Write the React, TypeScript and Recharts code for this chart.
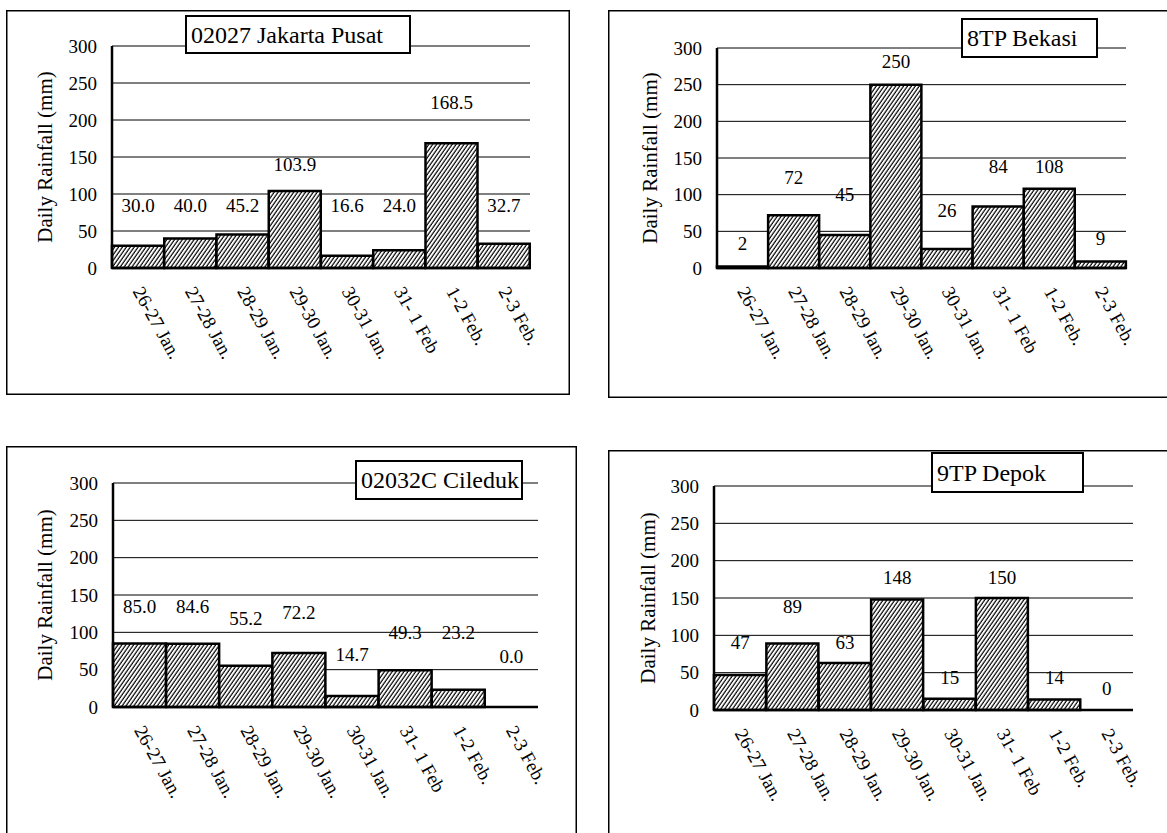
import React from 'react';
import { ComposedChart, Bar, Line, XAxis, YAxis, CartesianGrid } from 'recharts';

const FONT = 'Liberation Serif, Times New Roman, DejaVu Serif, serif';

// Observation periods (24 h ending in the morning of the second day)
const days = ['26-27 Jan.', '27-28 Jan.', '28-29 Jan.', '29-30 Jan.', '30-31 Jan.', '31- 1 Feb', '1-2 Feb.', '2-3 Feb.'];
const yTicks = [0, 50, 100, 150, 200, 250, 300];

// Daily rainfall (mm) per station
const jakartaPusatRain = [30.0, 40.0, 45.2, 103.9, 16.6, 24.0, 168.5, 32.7];
const bekasiRain = [2, 72, 45, 250, 26, 84, 108, 9];
const ciledukRain = [85.0, 84.6, 55.2, 72.2, 14.7, 49.3, 23.2, 0.0];
const depokRain = [47, 89, 63, 148, 15, 150, 14, 0];

// Height (mm on the value axis) where each value label is centred
const jakartaPusatLabelAt = [84, 84, 84, 140, 84, 84, 224, 84];
const bekasiLabelAt = [34, 124, 100, 281, 78, 138, 138, 40];
const ciledukLabelAt = [135, 135, 118, 127, 70, 100, 100, 68];
const depokLabelAt = [91, 138, 91, 177, 43, 177, 43, 29];

type Box = { x: number; y: number; w: number; h: number };
type Plot = { left: number; top: number; right: number; bottom: number };

interface PanelProps {
  id: string;
  title: string;
  values: number[];
  labelAt: number[];
  decimals: number;
  frame: Box;
  plot: Plot;
  titleBox: Box;
  yLabelX: number;
}

const Y_AXIS_W = 60;
const X_AXIS_H = 100;

const DayTick = ({ x, y, payload }: any) => (
  <text
    transform={`translate(${x},${y + 20}) rotate(61)`}
    textAnchor="start"
    dy="0.35em"
    style={{ fontFamily: FONT }}
    fontSize={19}
    fill="#000"
  >
    {payload.value}
  </text>
);

function Panel({ id, title, values, labelAt, decimals, frame, plot, titleBox, yLabelX }: PanelProps) {
  const rows = days.map((day, i) => ({ day, rain: values[i], labelAt: labelAt[i] }));
  const margin = {
    top: plot.top - frame.y,
    right: frame.x + frame.w - plot.right,
    left: plot.left - frame.x - Y_AXIS_W,
    bottom: frame.y + frame.h - plot.bottom - X_AXIS_H,
  };
  const hatchId = `hatch-${id}`;
  const border = { stroke: '#000', strokeWidth: 2.5 };

  const valueLabel = (p: any) => {
    const v = values[p.index];
    if (v === undefined) return null;
    return (
      <text
        key={`lbl-${id}-${p.index}`}
        x={p.x}
        y={p.y}
        textAnchor="middle"
        dominantBaseline="central"
        style={{ fontFamily: FONT }}
        fontSize={19}
        fill="#000"
      >
        {v.toFixed(decimals)}
      </text>
    );
  };

  const lx = (v: number) => v - frame.x;
  const ly = (v: number) => v - frame.y;
  const plotMidY = (plot.top + plot.bottom) / 2;

  return (
    <div style={{ position: 'absolute', left: frame.x, top: frame.y, width: frame.w, height: frame.h, fontFamily: FONT }}>
      <ComposedChart
        width={frame.w}
        height={frame.h}
        data={rows}
        margin={margin}
        barCategoryGap={0}
        barGap={0}
        style={{ fontFamily: FONT }}
      >
        <defs>
          <pattern id={hatchId} patternUnits="userSpaceOnUse" width={3.2} height={3.2} patternTransform="rotate(35)">
            <rect width={3.2} height={3.2} fill="#fff" />
            <line x1={1} y1={0} x2={1} y2={3.2} stroke="#000" strokeWidth={1.2} />
          </pattern>
        </defs>
        <CartesianGrid vertical={false} stroke="#000" strokeWidth={1} />
        <XAxis
          dataKey="day"
          height={X_AXIS_H}
          interval={0}
          tickLine={false}
          tickSize={0}
          tickMargin={0}
          axisLine={border}
          tick={<DayTick />}
        />
        <XAxis xAxisId="top" dataKey="day" orientation="top" height={0} tick={false} tickLine={false} axisLine={border} />
        <YAxis
          width={Y_AXIS_W}
          domain={[0, 300]}
          ticks={yTicks}
          interval={0}
          tickLine={false}
          tickSize={0}
          tickMargin={15}
          axisLine={border}
          tick={{ fill: '#000', fontSize: 19, style: { fontFamily: FONT } }}
        />
        <YAxis yAxisId="right" orientation="right" width={0} domain={[0, 300]} tick={false} tickLine={false} axisLine={border} />
        <Bar dataKey="rain" fill={`url(#${hatchId})`} stroke="#000" strokeWidth={2.5} isAnimationActive={false} />
        <Line
          dataKey="labelAt"
          stroke="none"
          dot={false}
          activeDot={false}
          legendType="none"
          isAnimationActive={false}
          label={valueLabel}
        />
      </ComposedChart>
      <svg
        width={frame.w}
        height={frame.h}
        style={{ position: 'absolute', left: 0, top: 0, pointerEvents: 'none', fontFamily: FONT }}
      >
        <rect x={0.75} y={0.75} width={frame.w - 1.5} height={frame.h - 1.5} fill="none" stroke="#000" strokeWidth={1.5} />
        <text
          transform={`translate(${lx(yLabelX)},${ly(plotMidY)}) rotate(-90)`}
          textAnchor="middle"
          dominantBaseline="central"
          fontSize={21}
          fill="#000"
        >
          Daily Rainfall (mm)
        </text>
        <rect
          x={lx(titleBox.x)}
          y={ly(titleBox.y)}
          width={titleBox.w}
          height={titleBox.h}
          fill="#fff"
          stroke="#000"
          strokeWidth={2}
        />
        <text
          x={lx(titleBox.x) + 5}
          y={ly(titleBox.y) + titleBox.h / 2}
          dominantBaseline="central"
          fontSize={24}
          fill="#000"
        >
          {title}
        </text>
      </svg>
    </div>
  );
}

export default function App() {
  return (
    <div
      style={{
        position: 'absolute',
        left: 0,
        top: 0,
        width: 1167,
        height: 833,
        overflow: 'hidden',
        background: '#fff',
      }}
    >
      <Panel
        id="jkt"
        title="02027 Jakarta Pusat"
        values={jakartaPusatRain}
        labelAt={jakartaPusatLabelAt}
        decimals={1}
        frame={{ x: 6, y: 10, w: 564, h: 385 }}
        plot={{ left: 112, top: 46, right: 530, bottom: 268 }}
        titleBox={{ x: 186, y: 16, w: 224, h: 37 }}
        yLabelX={45}
      />
      <Panel
        id="bks"
        title="8TP Bekasi"
        values={bekasiRain}
        labelAt={bekasiLabelAt}
        decimals={0}
        frame={{ x: 608, y: 10, w: 570, h: 388 }}
        plot={{ left: 717, top: 48, right: 1126, bottom: 268 }}
        titleBox={{ x: 962, y: 19, w: 135, h: 38 }}
        yLabelX={650}
      />
      <Panel
        id="cld"
        title="02032C Cileduk"
        values={ciledukRain}
        labelAt={ciledukLabelAt}
        decimals={1}
        frame={{ x: 6, y: 446, w: 571, h: 400 }}
        plot={{ left: 113, top: 483, right: 538, bottom: 707 }}
        titleBox={{ x: 356, y: 461, w: 166, h: 38 }}
        yLabelX={45}
      />
      <Panel
        id="dpk"
        title="9TP Depok"
        values={depokRain}
        labelAt={depokLabelAt}
        decimals={0}
        frame={{ x: 608, y: 450, w: 570, h: 400 }}
        plot={{ left: 714, top: 486, right: 1133, bottom: 710 }}
        titleBox={{ x: 932, y: 453, w: 151, h: 39 }}
        yLabelX={648}
      />
    </div>
  );
}
